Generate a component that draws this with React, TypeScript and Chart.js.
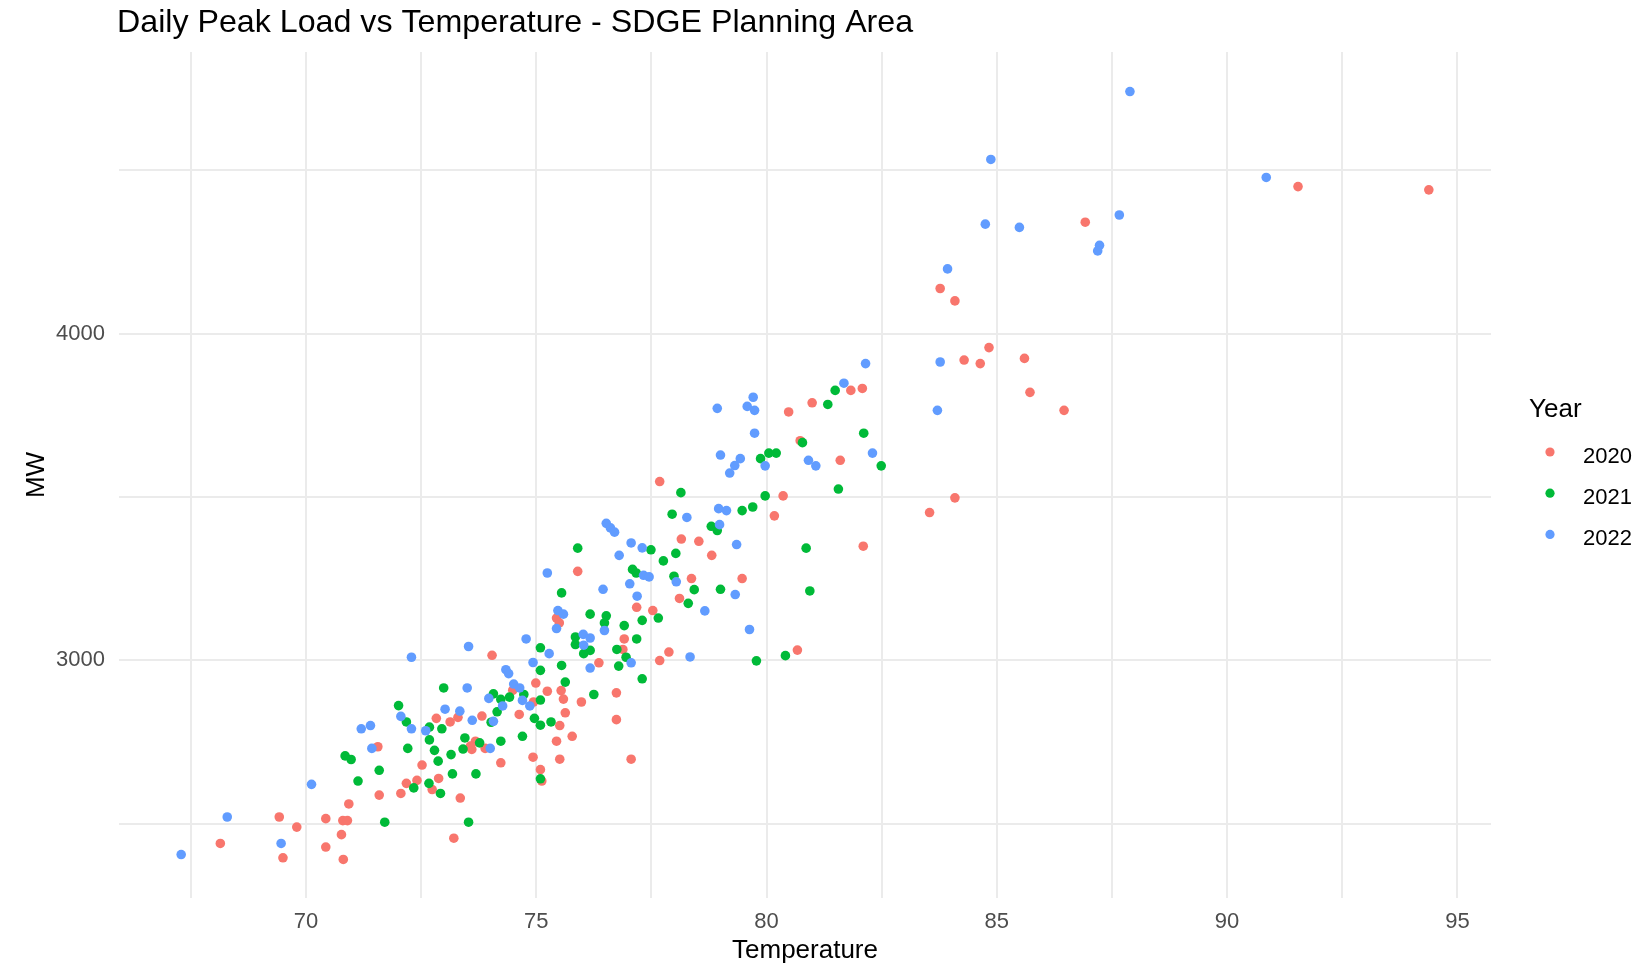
import React, { useEffect, useRef } from 'react';
import { Chart, registerables } from 'chart.js';

Chart.register(...registerables);

const TITLE = 'Daily Peak Load vs Temperature - SDGE Planning Area';
const X_TITLE = 'Temperature';
const Y_TITLE = 'MW';
const LEGEND_TITLE = 'Year';
const YEARS = ['2020', '2021', '2022'];
const COLORS = ['#F8766D', '#00BA38', '#619CFF'];

const X_TICKS = [67.5, 70, 72.5, 75, 77.5, 80, 82.5, 85, 87.5, 90, 92.5, 95];
const X_LABELS = [70, 75, 80, 85, 90, 95];
const Y_TICKS = [2500, 3000, 3500, 4000, 4500];
const Y_LABELS = [3000, 4000];

const temp2020 = [81.83, 82.08, 80.99, 80.48, 80.73, 81.6, 77.68, 80.36,
  86.92, 83.77, 84.09, 84.83, 84.29, 84.64, 85.6, 85.72, 86.46, 84.09, 83.54,
  91.54, 94.38,
  80.17, 78.81, 82.1, 79.47, 80.67,
  78.15, 78.53, 75.9, 78.37, 78.11, 77.18, 77.53, 75.44, 77.88,
  75.5, 76.91, 76.88, 77.68, 74.04, 76.36, 74.99, 75.24, 75.54, 75.59, 75.98, 76.74, 74.49, 74.94,
  74.63, 73.82, 75.63, 76.74, 75.51, 75.78, 75.44, 73.89, 74.23, 74.93, 75.51, 75.09, 75.12, 77.06,
  72.83, 73.13, 73.3, 71.56, 73.68, 73.57, 73.6, 72.52, 72.88, 72.18, 72.41, 72.74, 73.35, 71.59, 72.06,
  70.93, 69.42, 69.8, 70.43, 70.8, 70.9, 70.77, 68.14, 70.43, 69.5, 70.81,
  73.21];
const load2020 = [3826, 3832, 3788, 3760, 3672, 3612, 3547, 3503,
  4341, 4138, 4100, 3957, 3919, 3908, 3924, 3820, 3765, 3497, 3452,
  4450, 4440,
  3442, 3321, 3349, 3250, 3031,
  3371, 3364, 3272, 3250, 3189, 3162, 3152, 3129, 3025,
  3114, 3065, 3033, 2999, 3015, 2992, 2930, 2905, 2907, 2881, 2872, 2900, 2908, 2872,
  2834, 2829, 2839, 2818, 2800, 2767, 2752, 2730, 2686, 2703, 2697, 2665, 2630, 2697,
  2822, 2811, 2825, 2735, 2752, 2737, 2727, 2679, 2638, 2623, 2632, 2604, 2578, 2587, 2592,
  2560, 2520, 2489, 2515, 2509, 2509, 2466, 2439, 2428, 2395, 2390,
  2455];

const temp2021 = [81.49, 81.33, 82.11, 80.78, 79.87, 80.05, 80.21, 82.49, 78.14, 81.56, 79.97,
  79.47, 79.7, 78.8, 78.93, 80.86, 79.0, 80.94, 79.78, 80.41,
  77.95, 77.49, 75.9, 78.03, 77.76, 77.09, 77.17, 77.99, 78.43, 75.55, 78.3, 77.65, 76.17, 76.52,
  76.48, 76.91, 77.3, 75.85, 75.85, 76.17, 76.03, 77.18, 76.75, 76.95, 75.09, 76.79, 75.55, 75.09,
  77.3, 75.63, 75.09, 76.25, 74.73, 74.07, 74.23, 74.42, 74.15, 74.02, 74.96, 75.09, 75.32, 74.7,
  74.23, 75.09,
  72.99, 72.01, 72.18, 72.68, 72.95, 70.85, 70.98, 72.21, 72.68, 73.45, 73.77, 73.41, 72.79, 73.15,
  72.87, 71.59, 71.13, 73.18, 73.69, 72.34, 72.67, 72.92,
  71.71, 73.53];
const load2021 = [3826, 3783, 3695, 3666, 3617, 3634, 3634, 3595, 3513, 3524, 3503,
  3458, 3469, 3410, 3397, 3343, 3217, 3212, 2998, 3014,
  3447, 3338, 3343, 3327, 3304, 3278, 3267, 3257, 3216, 3206, 3174, 3129, 3141, 3136,
  3114, 3106, 3122, 3071, 3048, 3030, 3020, 3065, 3033, 3009, 3038, 2982, 2984, 2969,
  2943, 2933, 2878, 2895, 2895, 2897, 2880, 2887, 2842, 2810, 2822, 2801, 2811, 2767,
  2752, 2637,
  2915, 2861, 2811, 2795, 2790, 2707, 2696, 2730, 2756, 2762, 2747, 2728, 2724, 2711,
  2691, 2663, 2630, 2652, 2652, 2609, 2623, 2592,
  2504, 2504];

const temp2022 = [82.15, 81.68, 79.71, 78.93, 79.58, 79.74, 79.74, 79.0, 79.43, 79.31, 79.2, 79.97, 80.91, 81.07, 82.3,
  87.89, 84.87, 84.75, 85.49, 87.66, 87.23, 87.19, 83.93, 83.77, 83.71,
  90.85,
  78.96, 79.13, 78.98, 79.35, 79.32, 79.63,
  78.27, 76.52, 76.61, 76.7, 77.06, 77.3, 76.8, 75.24, 77.33, 77.45, 78.04, 77.03, 76.45, 77.19, 78.66, 75.47, 75.59, 78.34,
  75.44, 74.78, 76.02, 76.17, 76.03, 76.48, 77.06, 75.28, 74.93, 76.17, 74.34, 74.4, 74.51, 74.64, 73.97, 74.7, 74.86, 74.27, 74.07, 74.0,
  73.53, 72.29, 73.5, 72.06, 72.29, 72.6, 73.02, 73.34, 73.61, 71.2, 71.4, 71.43, 70.12,
  68.29, 69.46, 67.29];
const load2022 = [3908, 3848, 3805, 3771, 3777, 3765, 3695, 3628, 3617, 3596, 3573, 3595, 3612, 3595, 3634,
  4741, 4533, 4335, 4325, 4363, 4270, 4253, 4198, 3913, 3765,
  4478,
  3464, 3458, 3415, 3354, 3201, 3094,
  3437, 3419, 3405, 3392, 3359, 3344, 3321, 3267, 3260, 3255, 3240, 3234, 3217, 3196, 3151, 3152, 3141, 3010,
  3097, 3065, 3079, 3068, 3046, 3091, 2992, 3020, 2993, 2976, 2971, 2959, 2927, 2915, 2883, 2877, 2860, 2860, 2813, 2730,
  3042, 3009, 2915, 2828, 2790, 2784, 2850, 2844, 2816, 2790, 2800, 2730, 2620,
  2520, 2439, 2405];

const SERIES = [
  { temps: temp2020, loads: load2020 },
  { temps: temp2021, loads: load2021 },
  { temps: temp2022, loads: load2022 },
];

const FONT = '"Liberation Sans", Arial, sans-serif';

const overlayPlugin = {
  id: 'overlayText',
  afterDraw(chart: any) {
    const ctx = chart.ctx as CanvasRenderingContext2D;
    ctx.save();
    ctx.textAlign = 'left';
    ctx.textBaseline = 'alphabetic';
    ctx.fillStyle = '#000000';
    ctx.font = `32.2px ${FONT}`;
    ctx.fillText(TITLE, 117, 32);
    ctx.font = `26px ${FONT}`;
    ctx.fillText(LEGEND_TITLE, 1529, 417);
    ctx.font = `22px ${FONT}`;
    YEARS.forEach((yr, i) => {
      const cy = 452 + i * 41.2;
      ctx.fillStyle = COLORS[i];
      ctx.beginPath();
      ctx.arc(1550, cy, 4.6, 0, Math.PI * 2);
      ctx.fill();
      ctx.fillStyle = '#000000';
      ctx.fillText(yr, 1583, cy + 10.5);
    });
    ctx.restore();
  },
};

export default function App() {
  const canvasRef = useRef<HTMLCanvasElement | null>(null);

  useEffect(() => {
    if (!canvasRef.current) return;
    const chart = new Chart(canvasRef.current, {
      type: 'scatter',
      data: {
        datasets: SERIES.map((s, i) => ({
          label: YEARS[i],
          data: s.temps.map((t, j) => ({ x: t, y: s.loads[j] })),
          backgroundColor: COLORS[i],
          borderWidth: 0,
          pointRadius: 4.8,
          pointHoverRadius: 4.8,
          order: 2 - i,
        })),
      },
      options: {
        animation: false,
        responsive: true,
        maintainAspectRatio: false,
        layout: { padding: { left: 0, top: 52, right: 151, bottom: 0 } },
        plugins: {
          legend: { display: false },
          tooltip: { enabled: false },
          title: { display: false },
        },
        scales: {
          x: {
            type: 'linear',
            min: 65.94,
            max: 95.73,
            afterBuildTicks: (axis: any) => {
              axis.ticks = X_TICKS.map((v) => ({ value: v }));
            },
            afterFit: (scale: any) => {
              scale.height = 75;
            },
            grid: { color: '#EBEBEB', lineWidth: 2, drawTicks: false },
            border: { display: false },
            ticks: {
              autoSkip: false,
              maxRotation: 0,
              padding: 11,
              color: '#4D4D4D',
              font: { family: FONT, size: 22 },
              callback: (v: any) => (X_LABELS.includes(Number(v)) ? String(v) : ''),
            },
            title: {
              display: true,
              text: X_TITLE,
              color: '#000000',
              font: { family: FONT, size: 26 },
              padding: { top: 0, bottom: 7 },
            },
          },
          y: {
            type: 'linear',
            min: 2272,
            max: 4862,
            afterBuildTicks: (axis: any) => {
              axis.ticks = Y_TICKS.map((v) => ({ value: v }));
            },
            afterFit: (scale: any) => {
              scale.width = 119;
            },
            grid: { color: '#EBEBEB', lineWidth: 2, drawTicks: false },
            border: { display: false },
            ticks: {
              autoSkip: false,
              padding: 14,
              color: '#4D4D4D',
              font: { family: FONT, size: 22 },
              callback: (v: any) => (Y_LABELS.includes(Number(v)) ? String(v) : ''),
            },
            title: {
              display: true,
              text: Y_TITLE,
              color: '#000000',
              font: { family: FONT, size: 26 },
              padding: { top: 21, bottom: 0 },
            },
          },
        },
      },
      plugins: [overlayPlugin],
    });
    return () => chart.destroy();
  }, []);

  return (
    <div style={{ position: 'absolute', left: 0, top: 0, width: 1642, height: 973, background: '#ffffff' }}>
      <canvas ref={canvasRef} />
    </div>
  );
}
